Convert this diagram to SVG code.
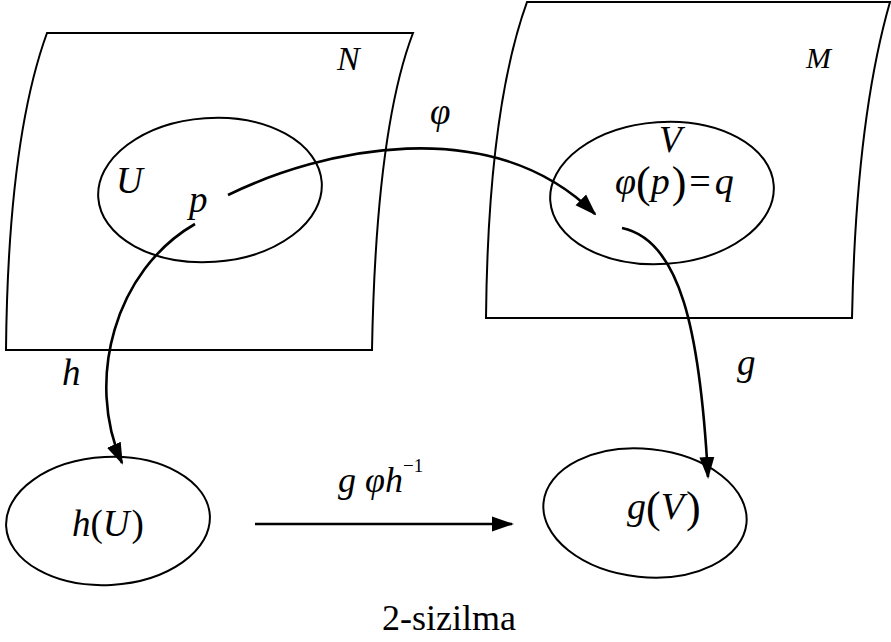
<svg xmlns="http://www.w3.org/2000/svg" width="891" height="642" viewBox="0 0 891 642">
<style>
.sheet{fill:none;stroke:#000;stroke-width:2}
.ell{fill:none;stroke:#000;stroke-width:2}
.arr{fill:none;stroke:#000;stroke-width:2.6;marker-end:url(#ah)}
text{font-family:"Liberation Serif","Times New Roman",serif;fill:#000}
.it{font-style:italic}
.up{font-style:normal}
</style>
<defs>
<marker id="ah" markerUnits="userSpaceOnUse" markerWidth="22" markerHeight="18" viewBox="0 0 22 18" refX="20" refY="9" orient="auto">
<path d="M0,1.5 L22,9 L0,16.5 Z" fill="#000"/>
</marker>
</defs>
<rect width="891" height="642" fill="#fff"/>
<g id="sheetN">
<path class="sheet" d="M47,33 L413,33 Q376,130 372,350 L6,350 Q8,140 47,33 Z"/>
<text class="it" x="337" y="70" font-size="34">N</text>
</g>
<g id="sheetM">
<path class="sheet" d="M527,2 L890,2 Q856,120 852,318 L486,318 Q488,110 527,2 Z"/>
<text class="it" x="806" y="68" font-size="30">M</text>
</g>
<g id="U">
<ellipse class="ell" cx="210" cy="190" rx="112" ry="72" transform="rotate(-4 210 190)"/>
<text class="it" x="116" y="193" font-size="37">U</text>
<text class="it" x="189" y="212" font-size="37">p</text>
</g>
<g id="V">
<ellipse class="ell" cx="662" cy="193" rx="112" ry="71" transform="rotate(-4 662 193)"/>
<text class="it" x="659" y="152" font-size="37">V</text>
<text x="615" y="194" font-size="38"><tspan class="it">φ</tspan><tspan class="up" font-size="44" dy="3">(</tspan><tspan class="it" dy="-3">p</tspan><tspan class="up" font-size="44" dy="3" dx="2">)</tspan><tspan class="up" dy="-3" dx="3">=</tspan><tspan class="it" dx="4">q</tspan></text>
</g>
<g id="hU">
<ellipse class="ell" cx="108" cy="521" rx="102" ry="64" transform="rotate(-3 108 521)"/>
<text x="72" y="536" font-size="37"><tspan class="it">h</tspan><tspan class="up">(</tspan><tspan class="it">U</tspan><tspan class="up" dx="2">)</tspan></text>
</g>
<g id="gV">
<ellipse class="ell" cx="645" cy="513" rx="102" ry="64" transform="rotate(6 645 513)"/>
<text x="627" y="519" font-size="38"><tspan class="it">g</tspan><tspan class="up" font-size="44" dy="3">(</tspan><tspan class="it" dy="-3">V</tspan><tspan class="up" font-size="44" dy="3" dx="2">)</tspan></text>
</g>
<g id="connectors">
<path class="arr" d="M228,195 C320,150 490,110 595,214"/>
<path class="arr" d="M195,224 C115,270 85,380 122,463"/>
<path class="arr" d="M622,228 C680,240 700,330 708,477"/>
<path class="arr" d="M255,524 L512,524"/>
</g>
<g id="labels">
<text class="it" x="430" y="124" font-size="37">φ</text>
<text class="it" x="62" y="385" font-size="37">h</text>
<text class="it" x="737" y="375" font-size="37">g</text>
<text x="338" y="492" font-size="36"><tspan class="it">g φh</tspan><tspan class="up" font-size="19" dy="-20">−1</tspan></text>
<text class="up" x="382" y="630" font-size="36">2-sizilma</text>
</g>
</svg>
